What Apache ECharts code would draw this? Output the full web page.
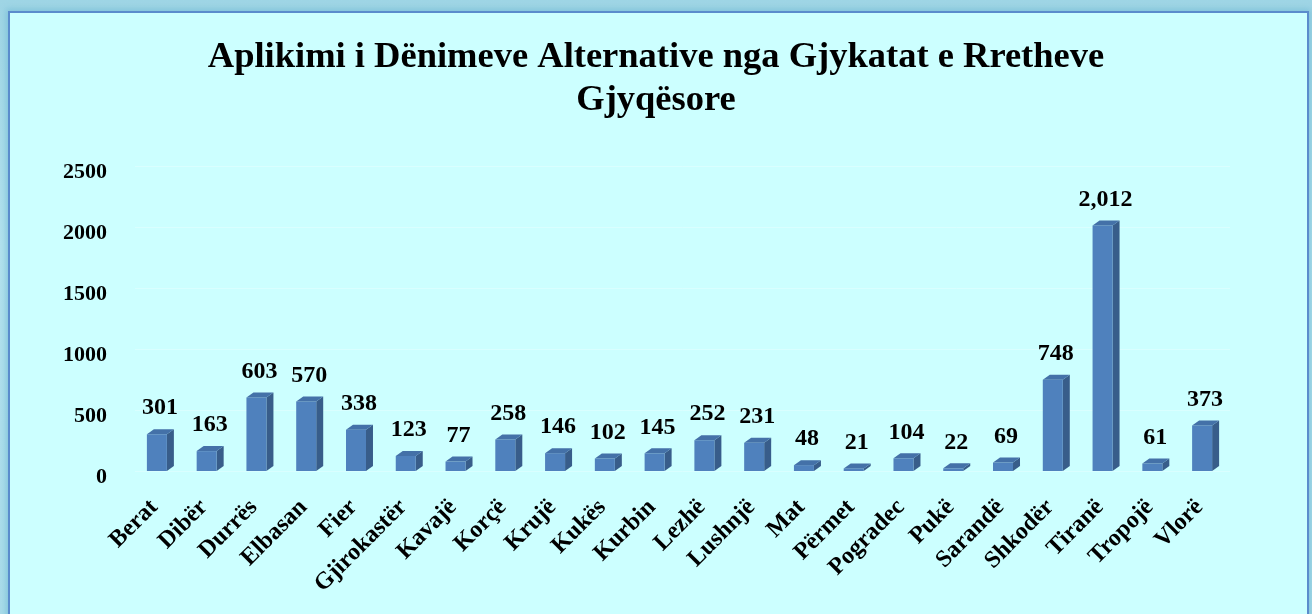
<!DOCTYPE html>
<html>
<head>
<meta charset="utf-8">
<script src="https://cdn.jsdelivr.net/npm/echarts@6/dist/echarts.min.js"></script>
<style>
html,body{margin:0;padding:0;width:1312px;height:614px;overflow:hidden;}
body{background:linear-gradient(180deg,#9fd5e5 0%,#b3e2ee 40%,#a9dcea 100%);position:relative;}
#frame{position:absolute;left:8px;top:11px;width:1297px;height:620px;background:#ccffff;border:2px solid #5a8ccc;box-shadow:0 0 6px 2px rgba(120,190,215,0.8);}
#chart{position:absolute;left:0;top:0;width:1312px;height:614px;}
</style>
</head>
<body>
<div id="frame"></div>
<div id="chart"></div>
<script>
const titleText = 'Aplikimi i Dënimeve Alternative nga Gjykatat e Rretheve\nGjyqësore';
const categories = ['Berat','Dibër','Durrës','Elbasan','Fier','Gjirokastër','Kavajë','Korçë','Krujë','Kukës','Kurbin','Lezhë','Lushnjë','Mat','Përmet','Pogradec','Pukë','Sarandë','Shkodër','Tiranë','Tropojë','Vlorë'];
const values = [301,163,603,570,338,123,77,258,146,102,145,252,231,48,21,104,22,69,748,2012,61,373];
const yTicks = [0,500,1000,1500,2000,2500];

const FONT = '"Liberation Serif", "DejaVu Serif", serif';
const chart = echarts.init(document.getElementById('chart'), null, {renderer:'canvas'});

function renderBar(params, api){
  const idx = api.value(0);
  const v = api.value(1);
  const top = api.coord([idx, v]);
  const base = api.coord([idx, 0]);
  const c = top[0];
  const y1 = top[1], y0 = base[1];
  const dx = 7, dy = 5;
  const l = c - 13, r = c + 7;
  return {
    type:'group',
    children:[
      {type:'polygon', shape:{points:[[r,y1],[r+dx,y1-dy],[r+dx,y0-dy],[r,y0]]}, style:{fill:'#385d8a'}},
      {type:'rect', shape:{x:l, y:y1, width:r-l, height:y0-y1}, style:{fill:'#4f81bd'}},
      {type:'polygon', shape:{points:[[l,y1],[l+dx,y1-dy],[r+dx,y1-dy],[r,y1]]}, style:{fill:'#4471a8'}},
      {type:'text', style:{text:echarts.format.addCommas(v), x:c, y:y1-14, align:'center', verticalAlign:'bottom', fill:'#000', font:'bold 24px '+FONT}}
    ]
  };
}

chart.setOption({
  animation:false,
  backgroundColor:'transparent',
  title:{
    text:titleText,
    left:'center',
    top:31,
    textStyle:{fontFamily:FONT, fontWeight:'bold', fontSize:36.5, lineHeight:43, color:'#000'}
  },
  grid:{left:135, top:166, width:1095, height:305, containLabel:false},
  xAxis:{
    type:'category',
    data:categories,
    axisLine:{show:false},
    axisTick:{show:false},
    axisLabel:{rotate:45, interval:0, margin:27, color:'#000',
      formatter:function(v){return '{a|' + v + '}';},
      rich:{a:{fontFamily:FONT, fontWeight:'bold', fontSize:24, color:'#000', padding:[0,8,0,0]}}}
  },
  yAxis:{
    type:'value',
    min:0, max:2500, interval:500,
    axisLine:{show:false},
    axisTick:{show:false},
    splitLine:{show:true, lineStyle:{color:'#d9ffff', width:1}},
    axisLabel:{margin:28, color:'#000',
      formatter:function(v){return yTicks.indexOf(v)>=0 ? '{a|' + v + '}' : '';},
      rich:{a:{fontFamily:FONT, fontWeight:'bold', fontSize:22, color:'#000', padding:[12,0,0,0]}}}
  },
  series:[{
    type:'custom',
    renderItem:renderBar,
    encode:{x:0, y:1},
    data:values.map((v,i)=>[i,v])
  }]
});
</script>
</body>
</html>
